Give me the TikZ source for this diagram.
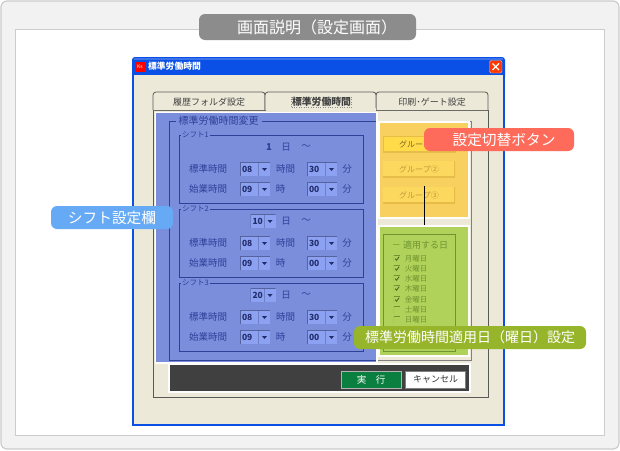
\documentclass[tikz,border=0pt]{standalone}
\usepackage{fontspec}
\setmainfont{Noto Sans CJK JP}
\usetikzlibrary{positioning}

\definecolor{framegray}{HTML}{F2F2F2}
\definecolor{frameline}{HTML}{CCCCCC}
\definecolor{titlegray}{HTML}{8C8C8C}
\definecolor{winblue}{HTML}{0A50E6}
\definecolor{winface}{HTML}{ECE9D8}
\definecolor{shiftblue}{HTML}{7A8EDC}
\definecolor{shiftink}{HTML}{2F4099}
\definecolor{comboblue}{HTML}{8DA1F2}
\definecolor{comboedge}{HTML}{55649F}
\definecolor{yellowpanel}{HTML}{F8D060}
\definecolor{yellowbtn}{HTML}{FDD85F}
\definecolor{yellowedge}{HTML}{E8BC48}
\definecolor{yellowink}{HTML}{C09A38}
\definecolor{activebtn}{HTML}{FFDB4A}
\definecolor{greenpanel}{HTML}{B0D25A}
\definecolor{greenink}{HTML}{6F9430}
\definecolor{pillblue}{HTML}{66AAF6}
\definecolor{pillred}{HTML}{FF6B5A}
\definecolor{pillgreen}{HTML}{97B52A}
\definecolor{rungreen}{HTML}{0A7F3F}

\tikzset{
  pill/.style={rounded corners=6pt, text=white, inner sep=0pt, minimum height=23pt, font=\fontsize{14.7}{15}\selectfont},
  shifttext/.style={text=shiftink, inner sep=0pt, font=\fontsize{9.5}{10}\selectfont},
  shiftbox/.style={draw=shiftink, line width=0.8pt},
  boxtitle/.style={fill=shiftblue, text=shiftink, inner sep=1pt, font=\fontsize{7.5}{8}\selectfont},
  combo/.style={fill=comboblue, text=shiftink!70!black, inner sep=0pt, minimum width=30pt, minimum height=14pt, font=\fontsize{8.5}{9}\selectfont\bfseries, text width=26pt,
    path picture={
      \draw[comboedge, line width=1.4pt] (path picture bounding box.south west) -- (path picture bounding box.north west) -- (path picture bounding box.north east);
      \fill[comboedge!55!comboblue] ([xshift=-12pt]path picture bounding box.south east) rectangle ([xshift=-11pt,yshift=-1pt]path picture bounding box.north east);
      \fill[shiftink!70!black] ([xshift=-8pt,yshift=1pt]path picture bounding box.east) -- ++(5pt,0) -- ++(-2.5pt,-3pt) -- cycle;
    }},
  uibtn/.style={fill=yellowbtn, text=yellowink, inner sep=0pt, minimum width=72pt, minimum height=16pt, font=\fontsize{8}{9}\selectfont,
    path picture={
      \draw[yellowedge, line width=2.4pt] (path picture bounding box.south west) -- (path picture bounding box.south east) -- (path picture bounding box.north east);
    }},
  greentext/.style={text=greenink, inner sep=0pt, font=\fontsize{7.5}{8}\selectfont},
  chkbox/.style={inner sep=0pt, minimum size=6.5pt,
    path picture={
      \draw[greenink, line width=1.2pt] (path picture bounding box.south west) -- (path picture bounding box.north west) -- (path picture bounding box.north east);
    }},
  chkon/.style={inner sep=0pt, minimum size=6.5pt,
    path picture={
      \draw[greenink, line width=1.2pt] (path picture bounding box.south west) -- (path picture bounding box.north west) -- (path picture bounding box.north east);
      \draw[greenink!70!black, line width=0.9pt] ([xshift=-1.8pt,yshift=0.3pt]path picture bounding box.center) -- ++(1.3pt,-1.6pt) -- ++(2.6pt,3.6pt);
    }},
  tabtext/.style={inner sep=0pt, text=black!75, font=\fontsize{9}{10}\selectfont}
}

\begin{document}
\begin{tikzpicture}[x=1pt,y=-1pt]
  \useasboundingbox (0,0) rectangle (620,450);
  \fill[white] (0,0) rectangle (620,450);

%Page frame
  \draw[frameline, fill=framegray, line width=1.2pt, rounded corners=6pt] (1,1) rectangle (619,449);
  \draw[frameline, fill=white] (15.5,29.5) rectangle (604.5,435);
  \node[pill, fill=titlegray, minimum width=217pt, minimum height=26pt, font=\fontsize{16}{16}\selectfont] at (307.5, 27) (title) {\hspace*{19pt}画面説明（設定画面）};

%Window
  \fill[winblue, rounded corners=3pt] (132,57) rectangle (505,80);
  \fill[winblue] (132,70) rectangle (505,426);
  \fill[white!20!winblue] (134,58) rectangle (503,60);
  \fill[winface] (134,75) rectangle (503,424);
  \fill[red] (135,62) rectangle (145,72);
  \node[inner sep=0pt, text=white, font=\fontsize{5}{5}\selectfont] at (140, 67) (icon) {Ks};
  \node[inner sep=0pt, text=white, font=\fontsize{8.8}{9}\selectfont\bfseries] at (174.5, 66.5) (wintitle) {標準労働時間};
  \draw[white!70!red, fill=red!55!orange, rounded corners=1.5pt] (489.5,60.5) rectangle (502,73);
  \draw[white, line width=1.3pt] (492.5,63.5) -- (499,70);
  \draw[white, line width=1.3pt] (499,63.5) -- (492.5,70);

%Tabs
  \draw[black!65, fill=winface, line width=0.8pt] (153,110) rectangle (488,397);
  \draw[black!65, fill=winface, line width=0.8pt, rounded corners=3pt] (153,110) -- (153,92) -- (265,92) -- (265,110);
  \draw[black!65, fill=winface, line width=0.8pt, rounded corners=3pt] (376,110) -- (376,92) -- (488,92) -- (488,110);
  \draw[black!65, fill=winface, line width=0.8pt, rounded corners=3pt] (265,110) -- (265,92) -- (376,92) -- (376,110);
  \fill[winface] (265.5,108) rectangle (375.5,112);
  \node[tabtext] at (209, 102) (tabA) {履歴フォルダ設定};
  \node[tabtext, draw=black!45, dotted, inner sep=0.5pt, font=\fontsize{9.8}{10}\selectfont\bfseries] at (321.5, 102) (tabB) {標準労働時間};
  \node[tabtext] at (432, 102) (tabC) {印刷･ゲート設定};

%Right part of the group box
  \draw[black!50] (376,121) -- (471,121) -- (471,360) -- (376,360);
  \fill[white!90!winface] (155,112) rectangle (378,364);

%Shift area
  \fill[shiftblue] (156,113) rectangle (376,362);
  \draw[shiftbox] (376,121) -- (169,121) -- (169,360) -- (376,360);
  \node[boxtitle, fill=shiftblue, inner sep=3pt, font=\fontsize{10}{10}\selectfont] at (218.5, 121) (groupname) {標準労働時間変更};

  \draw[shiftbox] (179.5,135) rectangle (363,203);
  \draw[shiftbox] (179.5,209) rectangle (363,277);
  \draw[shiftbox] (179.5,283) rectangle (363,351);
  \node[boxtitle] at (195.5, 135) (sname1) {シフト1};
  \node[boxtitle] at (195.5, 209) (sname2) {シフト2};
  \node[boxtitle] at (195.5, 283) (sname3) {シフト3};

%Shift 1
  \node[shifttext] at (269, 147) (day1) {\textbf{1}};
  \node[shifttext] at (286, 147) (nichi1) {日};
  \node[shifttext] at (306, 147) (from1) {～};
  \node[shifttext] at (208, 169) (std1) {標準時間};
  \node[combo] at (255, 169) (stdh1) {08};
  \node[shifttext] at (285.5, 169) (stdu1) {時間};
  \node[combo] at (322, 169) (stdm1) {30};
  \node[shifttext] at (347, 169) (stdv1) {分};
  \node[shifttext] at (208, 189) (beg1) {始業時間};
  \node[combo] at (255, 189) (begh1) {09};
  \node[shifttext] at (280.5, 189) (begu1) {時};
  \node[combo] at (322, 189) (begm1) {00};
  \node[shifttext] at (347, 189) (begv1) {分};

%Shift 2
  \node[combo, minimum width=25pt, text width=21pt] at (263, 221) (day2) {10};
  \node[shifttext] at (286, 221) (nichi2) {日};
  \node[shifttext] at (306, 221) (from2) {～};
  \node[shifttext] at (208, 243) (std2) {標準時間};
  \node[combo] at (255, 243) (stdh2) {08};
  \node[shifttext] at (285.5, 243) (stdu2) {時間};
  \node[combo] at (322, 243) (stdm2) {30};
  \node[shifttext] at (347, 243) (stdv2) {分};
  \node[shifttext] at (208, 263) (beg2) {始業時間};
  \node[combo] at (255, 263) (begh2) {09};
  \node[shifttext] at (280.5, 263) (begu2) {時};
  \node[combo] at (322, 263) (begm2) {00};
  \node[shifttext] at (347, 263) (begv2) {分};

%Shift 3
  \node[combo, minimum width=25pt, text width=21pt] at (263, 295) (day3) {20};
  \node[shifttext] at (286, 295) (nichi3) {日};
  \node[shifttext] at (306, 295) (from3) {～};
  \node[shifttext] at (208, 317) (std3) {標準時間};
  \node[combo] at (255, 317) (stdh3) {08};
  \node[shifttext] at (285.5, 317) (stdu3) {時間};
  \node[combo] at (322, 317) (stdm3) {30};
  \node[shifttext] at (347, 317) (stdv3) {分};
  \node[shifttext] at (208, 337) (beg3) {始業時間};
  \node[combo] at (255, 337) (begh3) {09};
  \node[shifttext] at (280.5, 337) (begu3) {時};
  \node[combo] at (322, 337) (begm3) {00};
  \node[shifttext] at (347, 337) (begv3) {分};

%Group buttons
  \node[fill=yellowpanel, draw=white!90!winface, line width=1.5pt, inner sep=0pt, minimum width=90pt, minimum height=96pt] at (424, 170) (yellow) {};
  \node[uibtn, fill=activebtn, draw=yellowedge, text=black!35!yellowink] at (419, 144) (grp1) {グループ①};
  \node[uibtn] at (419, 169) (grp2) {グループ②};
  \node[uibtn] at (419, 195) (grp3) {グループ③};

%Days
  \node[fill=greenpanel, draw=white!90!winface, line width=1.5pt, inner sep=0pt, minimum width=90pt, minimum height=130pt] at (424, 291) (green) {};
  \draw[greenink, line width=0.8pt] (383,234) rectangle (455,351);
  \node[greentext, fill=greenpanel, inner sep=0pt, font=\fontsize{9}{10}\selectfont] at (420, 245) (daytitle) {－ 適用する日};
  \node[chkon] at (397, 259) (c1) {};
  \node[chkon] at (397, 269) (c2) {};
  \node[chkon] at (397, 279) (c3) {};
  \node[chkon] at (397, 289) (c4) {};
  \node[chkon] at (397, 300) (c5) {};
  \node[chkbox] at (397, 310) (c6) {};
  \node[chkbox] at (397, 320) (c7) {};
  \node[greentext] at (416, 259) (d1) {月曜日};
  \node[greentext] at (416, 269) (d2) {火曜日};
  \node[greentext] at (416, 279) (d3) {水曜日};
  \node[greentext] at (416, 289) (d4) {木曜日};
  \node[greentext] at (416, 300) (d5) {金曜日};
  \node[greentext] at (416, 310) (d6) {土曜日};
  \node[greentext] at (416, 320) (d7) {日曜日};

%Command bar
  \draw[white!90!winface, fill=black!75, line width=1.5pt] (169,364) rectangle (470,392);
  \node[fill=rungreen, draw=white!70!black, line width=1pt, text=white, inner sep=0pt, minimum width=60pt, minimum height=17pt, font=\fontsize{9.5}{10}\selectfont] at (371, 379.5) (run) {実\hspace{1em}行};
  \node[fill=white, draw=black!50, line width=0.8pt, text=black!80, inner sep=0pt, minimum width=60pt, minimum height=17pt, font=\fontsize{9}{10}\selectfont] at (435.5, 379.5) (cancel) {キャンセル};

%Callouts
  \coordinate (lineTop) at (424, 186);
  \draw[black, line width=1pt] (lineTop) -- (green.north);
  \node[pill, fill=pillblue, minimum width=122pt] at (112, 217.5) (shiftcall) {シフト設定欄};
  \node[pill, fill=pillred, minimum width=150pt] at (499, 139.5) (btncall) {\hspace*{10pt}設定切替ボタン};
  \node[pill, fill=pillgreen, minimum width=232pt, font=\fontsize{14}{14}\selectfont] at (470, 337.5) (daycall) {標準労働時間適用日（曜日）設定};
\end{tikzpicture}
\end{document}
